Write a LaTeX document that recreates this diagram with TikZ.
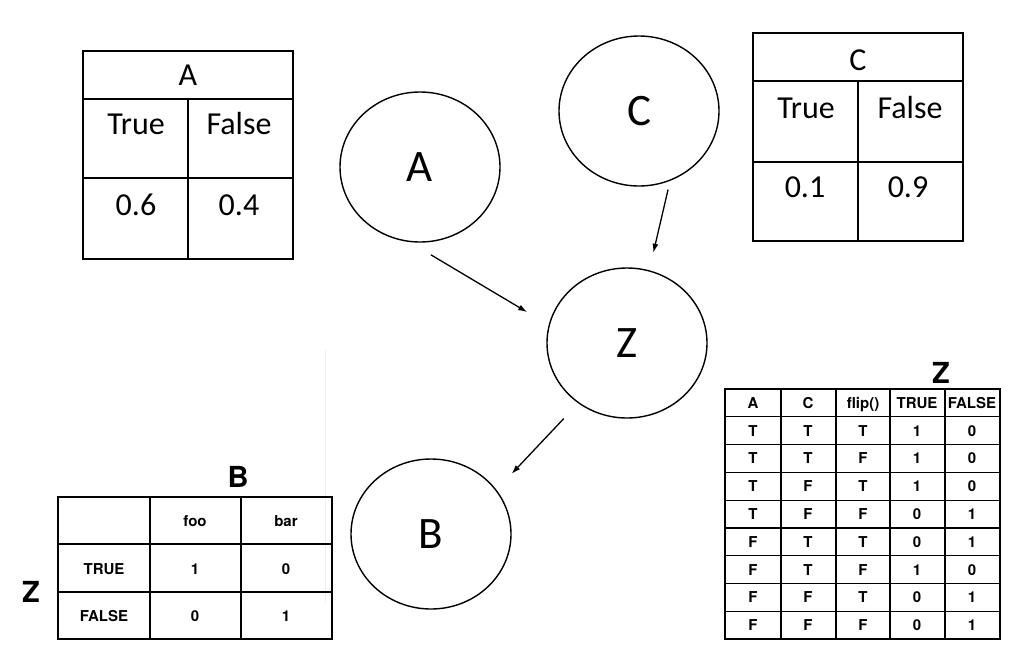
\documentclass[tikz,border=0pt]{standalone}
\usepackage{fontspec}
\setmainfont{Carlito}
\newfontfamily\heros{TeX Gyre Heros}
\usetikzlibrary{arrows.meta,shapes.geometric}

\begin{document}
\begin{tikzpicture}[x=1pt,y=-1pt,
  var/.style={ellipse,draw,line width=1.4pt,minimum width=160pt,minimum height=150pt,
    inner sep=0pt,font=\fontsize{45}{45}\selectfont},
  cpt/.style={inner sep=0pt,font=\fontsize{32}{32}\selectfont},
  tbl/.style={inner sep=0pt,text depth=0pt,font=\heros\bfseries\fontsize{15}{15}\selectfont},
  big/.style={inner sep=0pt,font=\heros\bfseries\fontsize{29}{29}\selectfont},
  edge/.style={-{Latex[length=9pt,width=6pt]},line width=1.3pt}]
  \useasboundingbox (0,0) rectangle (1025,659);

  % network
  \node[var] (A) at (420,167) {A};
  \node[var] (C) at (639,111) {C};
  \node[var] (Z) at (627,343) {Z};
  \node[var] (B) at (431,534) {B};
  \draw[edge,shorten <=25pt,shorten >=25pt] (A.-98) -- (Z.167);
  \draw[edge,shorten <=9pt,shorten >=18pt] (C.-66) -- (Z.73);
  \draw[edge,shorten <=21pt,shorten >=22pt] (Z.-129) -- (B.34);

  % prior of A
  \draw[line width=1.2pt] (83,51) rectangle (293,259);
  \draw[line width=1.2pt] (83,99) -- (293,99) (83,178) -- (293,178) (188,99) -- (188,259);
  \node[cpt] (pa) at (188,75) {A};
  \node[cpt] (pat) at (136,124) {True};
  \node[cpt] (paf) at (239,124) {False};
  \node[cpt] (pav) at (136,205) {0.6};
  \node[cpt] (paw) at (239,205) {0.4};

  % prior of C
  \draw[line width=1.2pt] (753,33) rectangle (963,241);
  \draw[line width=1.2pt] (753,81) -- (963,81) (753,162) -- (963,162) (858,81) -- (858,241);
  \node[cpt] (pc) at (858,60) {C};
  \node[cpt] (pct) at (806,108) {True};
  \node[cpt] (pcf) at (910,108) {False};
  \node[cpt] (pcv) at (805,187) {0.1};
  \node[cpt] (pcw) at (908,187) {0.9};

  % table of B given Z
  \draw[gray!12] (325,350) -- (325,603);
  \draw[line width=1.1pt] (58,497) rectangle (332,639);
  \draw[line width=1.1pt] (58,544) -- (332,544) (58,592) -- (332,592)
    (150,497) -- (150,639) (241,497) -- (241,639);
  \node[big] (bhead) at (238,477) {B};
  \node[big] (zside) at (31,592) {Z};
  \node[tbl] (bfoo) at (195,521) {foo};
  \node[tbl] (bbar) at (286,521) {bar};
  \node[tbl] (btrue) at (104,569) {TRUE};
  \node[tbl] (bfalse) at (104,616) {FALSE};
  \node[tbl] (b11) at (195,569) {1};
  \node[tbl] (b12) at (286,569) {0};
  \node[tbl] (b21) at (195,616) {0};
  \node[tbl] (b22) at (286,616) {1};

  % table of Z
  \node[big] (zhead) at (941,373) {Z};
  \draw[line width=1.1pt] (725,389) rectangle (1000,639);
  \foreach \x in {781,836,890,945}
    \draw[line width=1.1pt] (\x,389) -- (\x,639);
  \foreach \r in {1,...,8}
    \draw[line width=1.1pt] (725,{389+27.8*\r}) -- (1000,{389+27.8*\r});
  \node[tbl] (za0) at (753,403) {A};
  \node[tbl] (zc0) at (808,403) {C};
  \node[tbl] (zf0) at (863,403) {flip()};
  \node[tbl] (zt0) at (917,403) {TRUE};
  \node[tbl] (zn0) at (972,403) {FALSE};
  \foreach \a/\c/\f/\t/\n [count=\i] in
      {T/T/T/1/0, T/T/F/1/0, T/F/T/1/0, T/F/F/0/1,
       F/T/T/0/1, F/T/F/1/0, F/F/T/0/1, F/F/F/0/1} {
    \node[tbl] (za\i) at (753,{389+27.8*(\i+0.5)}) {\a};
    \node[tbl] (zc\i) at (808,{389+27.8*(\i+0.5)}) {\c};
    \node[tbl] (zf\i) at (863,{389+27.8*(\i+0.5)}) {\f};
    \node[tbl] (zt\i) at (917,{389+27.8*(\i+0.5)}) {\t};
    \node[tbl] (zn\i) at (972,{389+27.8*(\i+0.5)}) {\n};
  }
\end{tikzpicture}
\end{document}
